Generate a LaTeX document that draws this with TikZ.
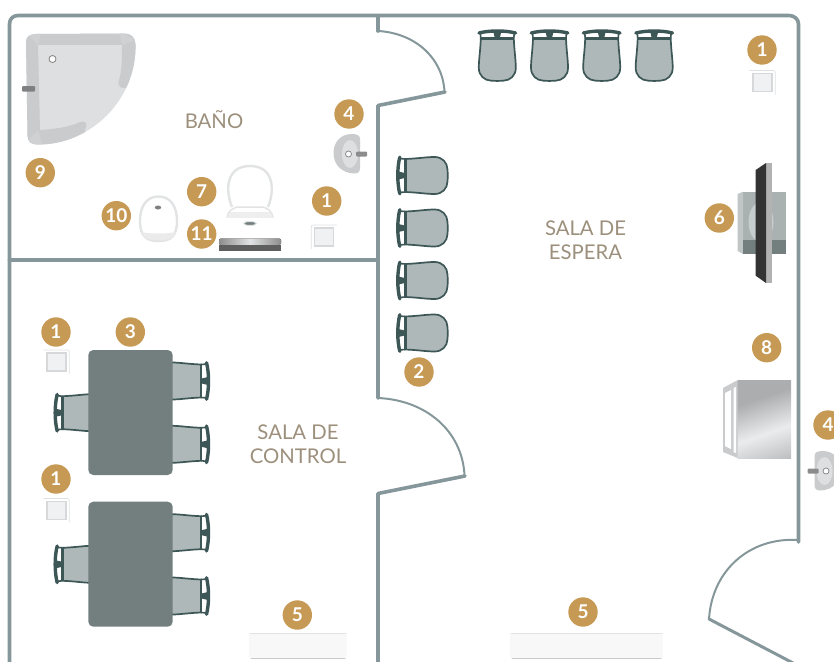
\documentclass[tikz,border=0pt]{standalone}
\usepackage{fontspec}
\setmainfont{Lato}
\definecolor{muro}{HTML}{85979A}
\definecolor{oro}{HTML}{C69A54}
\definecolor{rotulotxt}{HTML}{9C8F7C}
\definecolor{asiento}{HTML}{AEB8B8}
\definecolor{armazon}{HTML}{3D5656}
\definecolor{mesa}{HTML}{727F7E}
\definecolor{gris}{HTML}{C9CBCD}
\definecolor{grisclaro}{HTML}{DEDFE1}
\definecolor{linea}{HTML}{E2E3E4}
\pgfdeclareverticalshading{neverashade}{100bp}{
    color(0bp)=(gris!90!black); color(15bp)=(gris!90!black);
    color(40bp)=(linea!70!white); color(65bp)=(gris!85!black); color(100bp)=(gris!85!black)}
\begin{document}
\begin{tikzpicture}[x=1pt, y=-1pt,
    pared/.style={draw=muro, line width=3.6pt, line cap=round, line join=round},
    puerta/.style={draw=muro, line width=2pt},
    numero/.style={circle, fill=oro, text=white, minimum size=29.4pt, inner sep=0pt,
        font=\fontsize{19}{19}\selectfont\bfseries},
    rotulo/.style={text=rotulotxt, align=center, inner sep=0pt,
        font=\fontsize{20.3}{24}\selectfont},
    tablero/.style={fill=mesa, rounded corners=5pt},
    banco/.style={fill=linea!25!white, rounded corners=2pt},
    silla/.pic={
        \filldraw[fill=asiento, draw=armazon, line width=1.7pt]
            (-16.5,7) -- (16.5,7) .. controls (17,20) and (18.5,28) .. (18.5,36)
            .. controls (18.7,44) and (13,49) .. (6,49.2)
            .. controls (2,49.5) and (-2,49.5) .. (-6,49.2)
            .. controls (-13,49) and (-18.7,44) .. (-18.5,36)
            .. controls (-18.5,28) and (-17,20) .. cycle;
        \draw[armazon, line width=2.5pt] (-17,7) -- (17,7);
        \draw[armazon, line width=3.4pt, line cap=round] (-18.3,1.5) .. controls (-8,-1.2) and (8,-1.2) .. (18.3,1.5);
        \draw[armazon, line width=1.6pt] (-17,1) -- (-16.5,6.5) (17,1) -- (16.5,6.5);
        \fill[armazon] (-4,0) -- (4,0) -- (2.5,6.5) -- (-2.5,6.5) -- cycle;
    },
    toma/.pic={
        \draw[gris!60!white, line width=.7pt, rounded corners=2pt] (-12.8,-12) -- (12.8,-12) -- (12.8,12);
        \filldraw[fill=linea!50!white, draw=gris!75!white, line width=1.8pt] (-9.5,-9) rectangle (9.5,9);
    },
    lavabo/.pic={
        \fill[gris] (3.5,-20) .. controls (-8.5,-20) and (-15.5,-11) .. (-15,0)
            .. controls (-14.5,11) and (-6.5,19) .. (5.5,19.5)
            .. controls (9.5,19.5) and (11.5,18) .. (11.5,14) -- (11.5,-15)
            .. controls (11.5,-18) and (9.5,-20) .. cycle;
        \fill[grisclaro] (1.5,0) ellipse (8 and 14);
        \fill[gray!90!white, rounded corners=1pt] (7.5,-2.5) rectangle (18.5,2.5);
        \filldraw[fill=white, draw=gray, line width=.7pt] (0,0) circle (3);
    }
    ]
    \path[use as bounding box, clip] (0,0) rectangle (834,661);
    % ducha
    \begin{scope}
        \clip (26,42) .. controls (26,36) and (30,34.5) .. (36,34) -- (124,33.5)
            .. controls (131,33.5) and (135,37) .. (135.5,44)
            .. controls (137,100) and (90,145) .. (38,144.5)
            .. controls (31,144.5) and (28,142) .. (27.5,136) -- cycle;
        \fill[grisclaro] (20,25) rectangle (145,150);
        \fill[gris] (20,25) -- (145,25) -- (145,80) -- (130,86)
            .. controls (122,90) and (117,88) .. (119,80)
            .. controls (122,70) and (122,60) .. (122,45) -- (38,45) -- (40,130)
            .. controls (55,129) and (70,127) .. (80,122)
            .. controls (86,120) and (88,124) .. (85,130) -- (85,150) -- (20,150) -- cycle;
        \fill[gris!88!white] (38,45) -- (27,34) -- (41,32) -- cycle;
        \fill[gris!88!white] (122,45) -- (119,32) -- (137,40) -- cycle;
        \fill[gris!88!white] (38,130) -- (26,142) -- (43,146) -- cycle;
    \end{scope}
    \filldraw[fill=white, draw=gray, line width=.8pt] (52.5,59) circle (3.5);
    \fill[gray, rounded corners=1pt] (22,86) rectangle (35,91.5);
    % lavabos
    \pic at (348.5,154) {lavabo};
    \pic[xscale=-1] at (826,471) {lavabo};
    % inodoro
    \filldraw[fill=white, draw=linea, line width=2.4pt]
        (232,207) .. controls (225,190) and (226,166) .. (250,166)
        .. controls (274,166) and (275,190) .. (268,207);
    \filldraw[fill=white, draw=linea, line width=1.5pt]
        (227,219) .. controls (227,212) and (232,207) .. (240,207) -- (260,207)
        .. controls (268,207) and (273,212) .. (273,219);
    \fill[linea!60!white] (230,212) -- (270,212) -- (273,218) -- (227,218) -- cycle;
    \fill[white] (226,218) rectangle (274,238);
    \filldraw[fill=mesa, draw=linea, line width=1pt] (250,223.5) ellipse (6.5 and 2);
    \fill[left color=gray!90!white, right color=gray!90!white, middle color=linea,
        rounded corners=2pt] (219,245) -- (219,238.5) -- (281,238.5) -- (281,245) -- cycle;
    \fill[gray!60!black!90] (219,244.5) rectangle (281,251);
    % bidet
    \filldraw[fill=white, draw=linea, line width=2.4pt]
        (158.5,196.5) .. controls (171,196.5) and (177,207) .. (177,221)
        .. controls (177,237) and (170,241) .. (158.5,241)
        .. controls (147,241) and (140,237) .. (140,221)
        .. controls (140,207) and (146,196.5) .. cycle;
    \fill[linea!70!white] (141,232) .. controls (150,234) and (167,234) .. (176,232)
        .. controls (175,238) and (168,240.5) .. (158.5,240.5)
        .. controls (149,240.5) and (142,238) .. cycle;
    \fill[gray] (158,207.5) ellipse (3.2 and 2);
    % tomas
    \pic[xscale=-1] at (324,237) {toma};
    \pic at (762.5,82.5) {toma};
    \pic at (56.5,362) {toma};
    \pic at (56.5,510.5) {toma};
    % sillas
    \pic at (497.3,31.5) {silla};
    \pic at (549.5,31.5) {silla};
    \pic at (601.7,31.5) {silla};
    \pic at (654.2,31.5) {silla};
    \pic[rotate=90] at (398.3,175.5) {silla};
    \pic[rotate=90] at (398.3,228) {silla};
    \pic[rotate=90] at (398.3,280.5) {silla};
    \pic[rotate=90] at (398.3,333) {silla};
    \pic[rotate=-90] at (208,381) {silla};
    \pic[rotate=-90] at (208,444.3) {silla};
    \pic[rotate=90] at (55.7,412.7) {silla};
    \pic[rotate=-90] at (208,532.7) {silla};
    \pic[rotate=-90] at (208,596) {silla};
    \pic[rotate=90] at (55.7,564.3) {silla};
    % mesas
    \fill[tablero] (88.3,350) rectangle (172.7,475);
    \fill[tablero] (88.3,501.7) rectangle (172.7,626.7);
    % armarios bajos
    \fill[banco] (249,633) rectangle (346.7,658);
    \draw[linea, line width=1pt, line cap=round] (250,633) -- (346,633);
    \draw[gris, line width=1pt, line cap=round] (251,658) -- (345,658);
    \fill[banco] (510,633) rectangle (662.7,658);
    \draw[linea, line width=1pt, line cap=round] (511,633) -- (662,633);
    \draw[gris, line width=1pt, line cap=round] (512,658) -- (661,658);
    % television
    \fill[mesa!60!white] (743,191.7) rectangle (785.7,240);
    \fill[mesa!45!white] (737.7,194) -- (743,191.7) -- (743,254) -- (737.7,251) -- cycle;
    \fill[mesa] (743,240) rectangle (785.7,254);
    \fill[asiento!70!white] (761,222) ellipse (12.5 and 20);
    \fill[gray!60!white] (766,163) rectangle (771.5,283);
    \fill[black!80] (755.7,170) -- (766,163) -- (766,283) -- (755.7,275.7) -- cycle;
    % nevera
    \shade[shading=neverashade, shading angle=19] (737.7,380) rectangle (791,458);
    \fill[gris] (723,388) -- (737.7,380) -- (737.7,458) -- (723,452) -- cycle;
    \fill[white] (725,393) -- (731,390) -- (731,449) -- (725,446) -- cycle;
    \fill[white] (733.5,388) -- (736,387) -- (736,453) -- (733.5,452) -- cycle;
    % paredes
    \draw[pared] (378,16) -- (378,31);
    \draw[puerta] (378,31) .. controls (415,33) and (443,58) .. (444.5,92);
    \draw[pared] (445,92) -- (378,105.5) -- (378,398);
    \draw[puerta] (378,398) .. controls (425,400) and (462,430) .. (464.5,475);
    \draw[pared] (465,476) -- (378,493.5) -- (378,663);
    \draw[pared] (9.5,663) -- (9.5,24) .. controls (9.5,19) and (13,15.5) .. (18,15.5)
        -- (789,15.5) .. controls (794,15.5) and (798.5,19) .. (798.5,24) -- (798.5,542);
    \draw[pared] (9.5,260) -- (378,260);
    \draw[puerta] (798,540) .. controls (750,537) and (712,570) .. (709,619);
    \draw[pared, line width=3pt] (709,619) -- (795,664);
    % rotulos
    \node[rotulo] (bano) at (214,120) {BAÑO};
    \node[rotulo] (espera) at (585.5,240.5) {SALA DE\\ESPERA};
    \node[rotulo] (control) at (298,444) {SALA DE\\CONTROL};
    % numeros
    \node[numero] (tomaespera) at (762,50) {1};
    \node[numero] (tomabano) at (326.7,201) {1};
    \node[numero] (tomacontrola) at (56,332) {1};
    \node[numero] (tomacontrolb) at (56,479) {1};
    \node[numero] (sillas) at (419,372) {2};
    \node[numero] (mesas) at (130.3,332) {3};
    \node[numero] (lavabobano) at (349,114) {4};
    \node[numero] (lavaboespera) at (828,425) {4};
    \node[numero] (armariocontrol) at (297.3,615) {5};
    \node[numero] (armarioespera) at (583,612) {5};
    \node[numero] (tele) at (719.3,218) {6};
    \node[numero] (inodoro) at (201.7,191.7) {7};
    \node[numero] (nevera) at (766.7,347.7) {8};
    \node[numero] (ducha) at (40.3,172.7) {9};
    \node[numero] (bidet) at (116.3,215.7) {10};
    \node[numero] (escalon) at (201.7,234) {11};
\end{tikzpicture}
\end{document}
